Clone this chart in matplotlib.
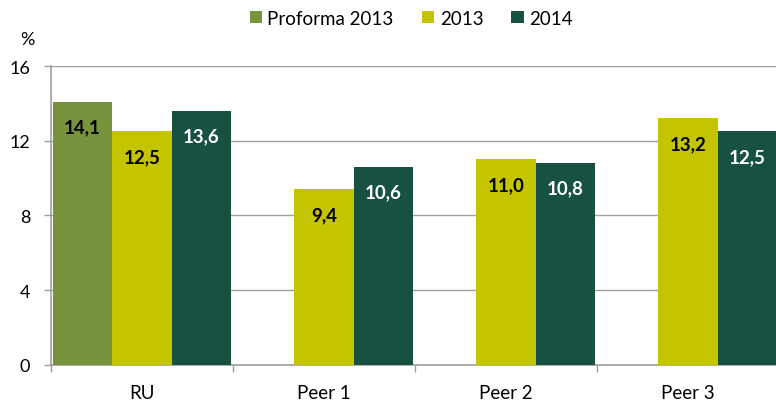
import numpy as np
import matplotlib.pyplot as plt
from matplotlib.patches import Patch

plt.rcParams['font.family'] = ['Lato', 'DejaVu Sans']

categories = ["RU", "Peer 1", "Peer 2", "Peer 3"]
series_names = ["Proforma 2013", "2013", "2014"]
proforma_2013 = [14.1, np.nan, np.nan, np.nan]
values_2013 = [12.5, 9.4, 11.0, 13.2]
values_2014 = [13.6, 10.6, 10.8, 12.5]
y_ticks = [0, 4, 8, 12, 16]

colors = ["#77933C", "#C4C400", "#175142"]
label_colors = ["black", "black", "white"]

fig = plt.figure(figsize=(7.76, 4.02), dpi=100)
ax = fig.add_axes([0.0657, 0.0896, 0.938, 0.7437])

x = np.arange(len(categories))
width = 0.327
all_series = [proforma_2013, values_2013, values_2014]
for i, vals in enumerate(all_series):
    pos = x + (i - 1) * width
    ax.bar(pos, vals, width, color=colors[i], zorder=3)
    for xp, v in zip(pos, vals):
        if np.isnan(v):
            continue
        ax.annotate(f"{v:.1f}".replace(".", ","), (xp, v), xytext=(0, -18),
                    textcoords="offset points", ha="center", va="center",
                    fontsize=13.5, fontweight="bold", color=label_colors[i], zorder=4)

ax.set_xlim(-0.5, len(categories) - 0.5)
ax.set_ylim(0, 16)
ax.set_yticks(y_ticks)
ax.tick_params(axis="y", labelsize=13, length=5, color="#A0A0A0", width=1, pad=10)
ax.yaxis.grid(True, color="#A0A0A0", linewidth=1, zorder=0)

# category labels between boundary ticks
ax.set_xticks(x)
ax.set_xticklabels(categories, fontsize=13.5)
ax.tick_params(axis="x", length=0, pad=14)
ax.set_xticks(np.arange(len(categories) + 1) - 0.5, minor=True)
ax.tick_params(axis="x", which="minor", length=5, color="#A0A0A0", width=1)

for s in ["top", "right"]:
    ax.spines[s].set_visible(False)
for s in ["left", "bottom"]:
    ax.spines[s].set_color("#A0A0A0")
    ax.spines[s].set_linewidth(1.2)

fig.text(0.035, 0.9, "%", fontsize=13, ha="center", va="center")

handles = [Patch(facecolor=c, edgecolor="none") for c in colors]
fig.legend(handles, series_names, loc="center", bbox_to_anchor=(0.53, 0.952),
           ncol=3, frameon=False, fontsize=13.5, handlelength=0.65, handleheight=0.65,
           handletextpad=0.3, columnspacing=1.5)

fig.savefig("out.png", dpi=100)
